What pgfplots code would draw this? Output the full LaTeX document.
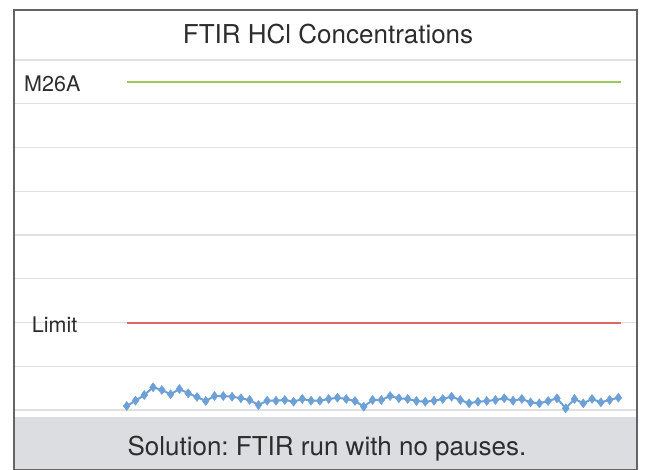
\documentclass[border=0pt]{standalone}
\usepackage{pgfplots}
\pgfplotsset{compat=1.18}
\usepackage{fontspec}
\setmainfont{TeX Gyre Heros}
\frenchspacing
\definecolor{blueS}{RGB}{110,160,216}
\definecolor{greenS}{RGB}{156,201,88}
\definecolor{redS}{RGB}{224,102,102}
\definecolor{gridS}{RGB}{224,224,224}
\definecolor{bandS}{RGB}{220,221,224}
\definecolor{frameS}{RGB}{100,100,100}
\definecolor{textS}{RGB}{45,45,45}
\begin{document}
\begin{tikzpicture}
\begin{axis}[
  at={(14pt,0pt)}, anchor=south west,
  scale only axis, width=623pt, height=460pt,
  xmin=-11.84, xmax=59.12, ymin=-13.71, ymax=91.43,
  xtick=\empty, ytick={0,10,...,80}, yticklabels={},
  major tick length=0pt,
  ymajorgrids, grid style={gridS, line width=1.2pt},
  axis line style={draw=none},
  clip=false,
]
\fill[bandS] (axis cs:-11.84,-1.6) rectangle (axis cs:59.12,-13.71);
\draw[frameS, line width=1.2pt] (rel axis cs:0,0) rectangle (rel axis cs:1,1);
\addplot[greenS, line width=2pt] coordinates {(1,75) (57.3,75)};
\addplot[redS, line width=2pt] coordinates {(1,20) (57.3,20)};
\addplot[blueS, line width=2pt, mark=diamond*, mark size=4.5pt, mark options={fill=blueS, draw=blueS, line width=0.5pt}] coordinates {
(1,0.92) (2,2.13) (3,3.43) (4,5.19) (5,4.58) (6,3.59) (7,4.80) (8,3.82) (9,2.97) (10,2.06)
(11,3.20) (12,3.20) (13,3.04) (14,2.68) (15,2.29) (16,1.14) (17,2.13) (18,2.13) (19,2.29) (20,1.90)
(21,2.52) (22,2.13) (23,2.13) (24,2.52) (25,2.81) (26,2.52) (27,2.06) (28,0.76) (29,2.29) (30,2.29)
(31,3.20) (32,2.68) (33,2.52) (34,2.06) (35,1.90) (36,2.13) (37,2.52) (38,3.04) (39,2.29) (40,1.53)
(41,1.90) (42,2.06) (43,2.29) (44,2.68) (45,2.13) (46,2.52) (47,1.76) (48,1.53) (49,2.06) (50,2.68)
(51,0.39) (52,2.52) (53,1.53) (54,2.52) (55,1.76) (56,2.29) (57,2.81)
};
\node[anchor=base, text=textS, font=\fontsize{26}{30}\selectfont] at (axis cs:23.93,83.77) {FTIR HCl Concentrations};
\node[anchor=base west, text=textS, inner sep=0pt, font=\fontsize{21.5}{26}\selectfont] at (axis cs:-10.70,72.76) {M26A};
\node[anchor=base west, text=textS, inner sep=0pt, font=\fontsize{21.5}{26}\selectfont] at (axis cs:-9.82,17.67) {Limit};
\node[anchor=base, text=textS, font=\fontsize{26}{30}\selectfont] at (axis cs:23.8,-10.51) {Solution: FTIR run with no pauses.};
\end{axis}
\pgfresetboundingbox
\path (0,0) rectangle (646pt,470pt);
\end{tikzpicture}
\end{document}
